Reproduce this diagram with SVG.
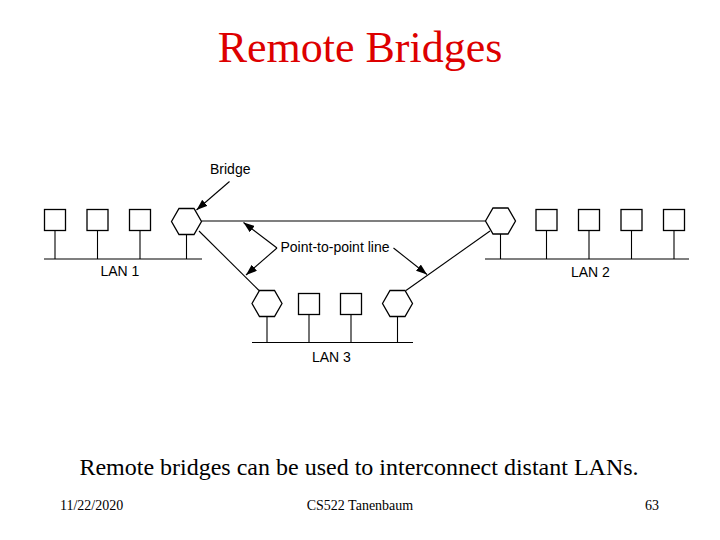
<svg xmlns="http://www.w3.org/2000/svg" width="720" height="540" viewBox="0 0 720 540">
<defs>
<marker id="ah" markerUnits="userSpaceOnUse" markerWidth="11" markerHeight="8" viewBox="0 0 11 8" refX="11" refY="4" orient="auto">
<path d="M0,0 L11,4 L0,8 Z" fill="#000"/>
</marker>
<style>
.st{fill:#fff;stroke:#000;stroke-width:1.3}
.ln{stroke:#000;stroke-width:1.1;fill:none}
.ar{stroke:#000;stroke-width:1.1;fill:none;marker-end:url(#ah)}
.lb{font-family:"Liberation Sans",Arial,sans-serif;font-size:14px;fill:#000}
.tm{font-family:"Liberation Serif","Times New Roman",serif;fill:#000}
</style>
</defs>
<rect width="720" height="540" fill="#fff"/>
<text x="360" y="62" text-anchor="middle" class="tm" style="font-size:44px;fill:#dd0000">Remote Bridges</text>

<g id="lan1">
<line class="ln" x1="44" y1="259" x2="202" y2="259"/>
<line class="ln" x1="55" y1="230.5" x2="55" y2="259"/>
<line class="ln" x1="97.5" y1="230.5" x2="97.5" y2="259"/>
<line class="ln" x1="140" y1="230.5" x2="140" y2="259"/>
<line class="ln" x1="186.5" y1="234.5" x2="186.5" y2="259"/>
<rect class="st" x="44.5" y="209.5" width="21" height="21"/>
<rect class="st" x="87" y="209.5" width="21" height="21"/>
<rect class="st" x="129.5" y="209.5" width="21" height="21"/>
<text class="lb" x="100.5" y="276">LAN 1</text>
</g>
<g id="bridge1">
<polygon class="st" points="171.5,221.5 179,208.5 194,208.5 201.5,221.5 194,234.5 179,234.5"/>
</g>

<g id="lan2">
<line class="ln" x1="485" y1="259" x2="689" y2="259"/>
<line class="ln" x1="500.5" y1="234" x2="500.5" y2="259"/>
<line class="ln" x1="546.5" y1="230.5" x2="546.5" y2="259"/>
<line class="ln" x1="589" y1="230.5" x2="589" y2="259"/>
<line class="ln" x1="631.5" y1="230.5" x2="631.5" y2="259"/>
<line class="ln" x1="674" y1="230.5" x2="674" y2="259"/>
<rect class="st" x="536" y="209.5" width="21" height="21"/>
<rect class="st" x="578.5" y="209.5" width="21" height="21"/>
<rect class="st" x="621" y="209.5" width="21" height="21"/>
<rect class="st" x="663.5" y="209.5" width="21" height="21"/>
<text class="lb" x="571" y="276.5">LAN 2</text>
</g>
<g id="bridge2">
<polygon class="st" points="485.5,221 493,208 508,208 515.5,221 508,234 493,234"/>
</g>

<g id="lan3">
<line class="ln" x1="252" y1="342.5" x2="413" y2="342.5"/>
<line class="ln" x1="267" y1="316.5" x2="267" y2="342.5"/>
<line class="ln" x1="309" y1="314.5" x2="309" y2="342.5"/>
<line class="ln" x1="351" y1="314.5" x2="351" y2="342.5"/>
<line class="ln" x1="397.5" y1="316.5" x2="397.5" y2="342.5"/>
<rect class="st" x="298.5" y="293.5" width="21" height="21"/>
<rect class="st" x="340.5" y="293.5" width="21" height="21"/>
<text class="lb" x="312" y="361.5">LAN 3</text>
</g>
<g id="bridge3">
<polygon class="st" points="252,303.5 259.5,290.5 274.5,290.5 282,303.5 274.5,316.5 259.5,316.5"/>
</g>
<g id="bridge4">
<polygon class="st" points="382.5,303.5 390,290.5 405,290.5 412.5,303.5 405,316.5 390,316.5"/>
</g>

<g id="connectors">
<line class="ln" x1="201.5" y1="221" x2="485.5" y2="221"/>
<line class="ln" x1="199" y1="231" x2="259" y2="290.5"/>
<line class="ln" x1="406" y1="290.5" x2="490" y2="231"/>
<line class="ar" x1="229.5" y1="181.5" x2="196.5" y2="210"/>
<line class="ar" x1="277" y1="248" x2="243.5" y2="222.5"/>
<line class="ar" x1="277" y1="248" x2="246" y2="275"/>
<line class="ar" x1="393.5" y1="248" x2="427" y2="274.5"/>
</g>
<text class="lb" x="210" y="174">Bridge</text>
<text class="lb" x="280.5" y="252">Point-to-point line</text>

<text x="359" y="475" text-anchor="middle" class="tm" style="font-size:24px">Remote bridges can be used to interconnect distant LANs.</text>
<text x="60" y="510" class="tm" style="font-size:14px">11/22/2020</text>
<text x="360" y="510" text-anchor="middle" class="tm" style="font-size:14px">CS522 Tanenbaum</text>
<text x="659" y="510" text-anchor="end" class="tm" style="font-size:14px">63</text>
</svg>
